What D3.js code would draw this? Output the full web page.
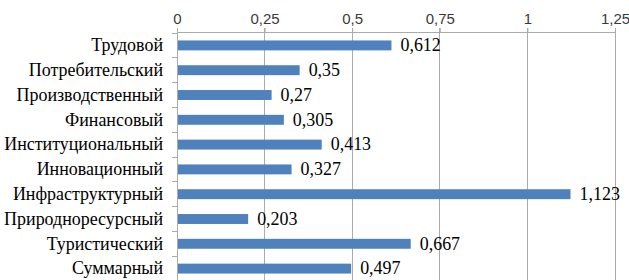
<!DOCTYPE html>
<html><head><meta charset="utf-8">
<script src="https://cdn.jsdelivr.net/npm/d3@7"></script>
</head><body style="margin:0">
<svg id="c" width="629" height="280" font-family="Liberation Serif"></svg>
<script>
const categories = ["Трудовой","Потребительский","Производственный","Финансовый","Институциональный","Инновационный","Инфраструктурный","Природноресурсный","Туристический","Суммарный"];
const values = [0.612,0.35,0.27,0.305,0.413,0.327,1.123,0.203,0.667,0.497];
const tickValues = [0,0.25,0.5,0.75,1,1.25];
const tickLabels = ["0","0,25","0,5","0,75","1","1,25"];

const svg = d3.select("#c");
const top0 = 32, bottom0 = 281;
const x = d3.scaleLinear().domain([0,1.25]).range([177,615]);
const y = d3.scaleBand().domain(categories).range([top0 + 1, bottom0]).paddingInner(0.6).paddingOuter(0.3);
const fmt = v => String(v).replace(".", ",");
const gridColor = "#ababab";

svg.append("g").selectAll("line").data(tickValues.slice(1)).join("line")
  .attr("x1", d=>x(d)).attr("x2", d=>x(d)).attr("y1", top0 - 4).attr("y2", bottom0)
  .attr("stroke", gridColor).attr("stroke-width", 1).attr("shape-rendering","crispEdges");

const ax = svg.append("g").attr("transform",`translate(0,${top0})`)
  .call(d3.axisTop(x).tickValues(tickValues).tickFormat((d,i)=>tickLabels[i]).tickSize(4).tickSizeOuter(0));
ax.attr("font-family", "Liberation Sans").attr("font-size", 15);
ax.select(".domain").attr("stroke",gridColor);
ax.selectAll(".tick line").attr("stroke",gridColor);
ax.selectAll(".tick text").attr("fill","#3a3a3a").attr("y",-19).attr("dy","0.71em");

svg.append("line").attr("x1",177).attr("x2",177).attr("y1",top0).attr("y2",bottom0)
  .attr("stroke",gridColor).attr("shape-rendering","crispEdges");
svg.append("g").selectAll("line").data(d3.range(categories.length+1)).join("line")
  .attr("x1",172).attr("x2",177)
  .attr("y1", i=>top0 + 1 + i*y.step()).attr("y2", i=>top0 + 1 + i*y.step())
  .attr("stroke",gridColor).attr("shape-rendering","crispEdges");

svg.append("g").selectAll("rect").data(categories).join("rect")
  .attr("x", x(0)+1).attr("y", d=>y(d)).attr("height", y.bandwidth())
  .attr("width", (d,i)=>x(values[i])-x(0)-1).attr("fill","#4f81bd");

const labels = svg.append("g").attr("font-size",20).selectAll("text").data(categories).join("text")
  .attr("x",163).attr("y", d=>y(d)+y.bandwidth()/2).attr("dy","0.32em")
  .attr("text-anchor","end").attr("fill","#000").text(d=>d);

// fit the longest label to the width it takes in the reference (~160px)
let maxW = 0;
labels.each(function(){ maxW = Math.max(maxW, this.getComputedTextLength()); });
const fs = Math.min(20, 20 * 159 / maxW);
labels.attr("font-size", fs);

svg.append("g").attr("font-size", fs).selectAll("text").data(categories).join("text")
  .attr("x",(d,i)=>x(values[i])+9).attr("y", d=>y(d)+y.bandwidth()/2).attr("dy","0.32em")
  .attr("fill","#000").text((d,i)=>fmt(values[i]));
</script>
</body></html>
